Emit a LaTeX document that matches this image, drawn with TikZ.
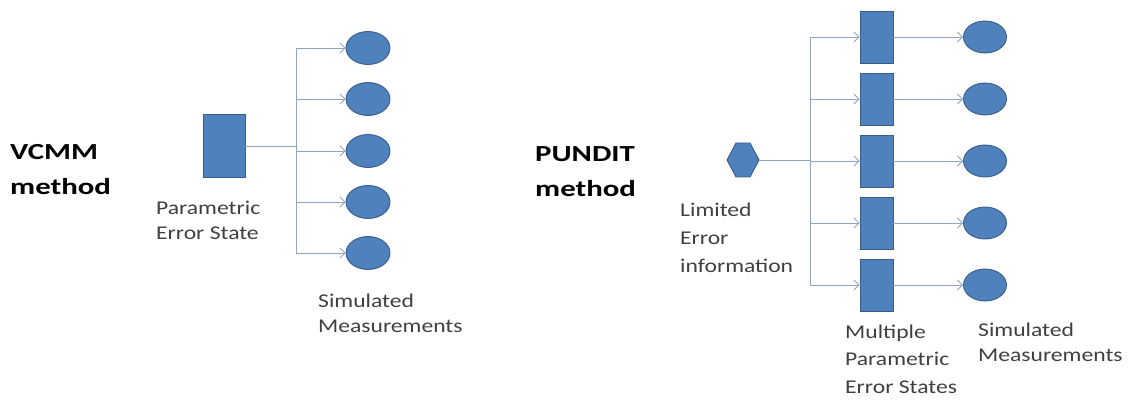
\documentclass[tikz,border=0pt]{standalone}
\usepackage{fontspec}
\setmainfont{Carlito}
\newfontfamily\lblfont[FakeStretch=1.21]{Carlito}
\newfontfamily\mthfont[FakeStretch=1.34]{Carlito}
\usetikzlibrary{arrows.meta,shapes.geometric}
\definecolor{boxfill}{HTML}{4F81BD}
\definecolor{boxline}{HTML}{385D8A}
\definecolor{conn}{HTML}{8EA6C4}
\definecolor{lbl}{HTML}{404040}
\begin{document}
\begin{tikzpicture}[x=1pt,y=-1pt,
  rectbox/.style={rectangle,fill=boxfill,draw=boxline,line width=0.9pt,inner sep=0pt},
  meas/.style={ellipse,fill=boxfill,draw=boxline,line width=0.9pt,inner sep=0pt,minimum width=44pt,minimum height=33pt},
  conline/.style={draw=conn,line width=0.9pt},
  conarrow/.style={conline,-{Straight Barb[length=5pt,width=10pt]}},
  lbltext/.style={font=\lblfont\fontsize{19.5}{25}\selectfont,text=lbl,align=left,anchor=base west,inner sep=0pt},
  mthtext/.style={font=\mthfont\bfseries\fontsize{23}{35}\selectfont,text=black,align=left,anchor=base west,inner sep=0pt}]
\useasboundingbox (0,0) rectangle (1130,403);
% ---------- VCMM ----------
\node[mthtext] (vcmm) at (10,195) {VCMM\\method};
\node[rectbox,minimum width=42pt,minimum height=63pt] (pes) at (224,146) {};
\coordinate (lt) at (296,48);
\coordinate (lm) at (296,146);
\coordinate (lb) at (296,253);
\foreach \i/\y in {1/48,2/99,3/151,4/202,5/253}{
  \node[meas] (m\i) at (368,\y) {};
  \coordinate (lj\i) at (296,\y);
  \draw[conarrow] (lj\i) -- (m\i.west);
}
\draw[conline] (lt) -- (lb);
\draw[conline] (pes.east) -- (lm);
\node[lbltext] (pesl) at (156,240) {Parametric\\Error State};
\node[lbltext] (siml) at (318,333) {Simulated\\Measurements};
% ---------- PUNDIT ----------
\node[mthtext] (pundit) at (535,197) {PUNDIT\\method};
\node[inner sep=0pt,minimum width=32pt,minimum height=34pt] (hex) at (743,160) {};
\filldraw[fill=boxfill,draw=boxline,line width=0.9pt]
  (727,160) -- (736,143) -- (750,143) -- (759,160) -- (750,177) -- (736,177) -- cycle;
\coordinate (rt) at (810,37);
\coordinate (rm) at (810,160);
\coordinate (rb) at (810,285);
\draw[conline] (rt) -- (rb);
\draw[conline] (hex.east) -- (rm);
\foreach \i/\y in {1/37,2/99,3/161,4/223,5/285}{
  \node[rectbox,minimum width=33pt,minimum height=52pt] (r\i) at (876.5,\y) {};
  \node[meas,minimum width=43pt,minimum height=32pt] (e\i) at (985,\y) {};
  \coordinate (rj\i) at (810,\y);
  \draw[conarrow] (rj\i) -- (r\i.west);
  \draw[conarrow] (r\i.east) -- (e\i.west);
}
\node[lbltext,font=\lblfont\fontsize{19.5}{28}\selectfont] (lim) at (680,273) {Limited\\Error\\information};
\node[lbltext,font=\lblfont\fontsize{19.5}{27.5}\selectfont] (mult) at (845,393) {Multiple\\Parametric\\Error States};
\node[lbltext] (simr) at (978,362) {Simulated\\Measurements};
\end{tikzpicture}
\end{document}
